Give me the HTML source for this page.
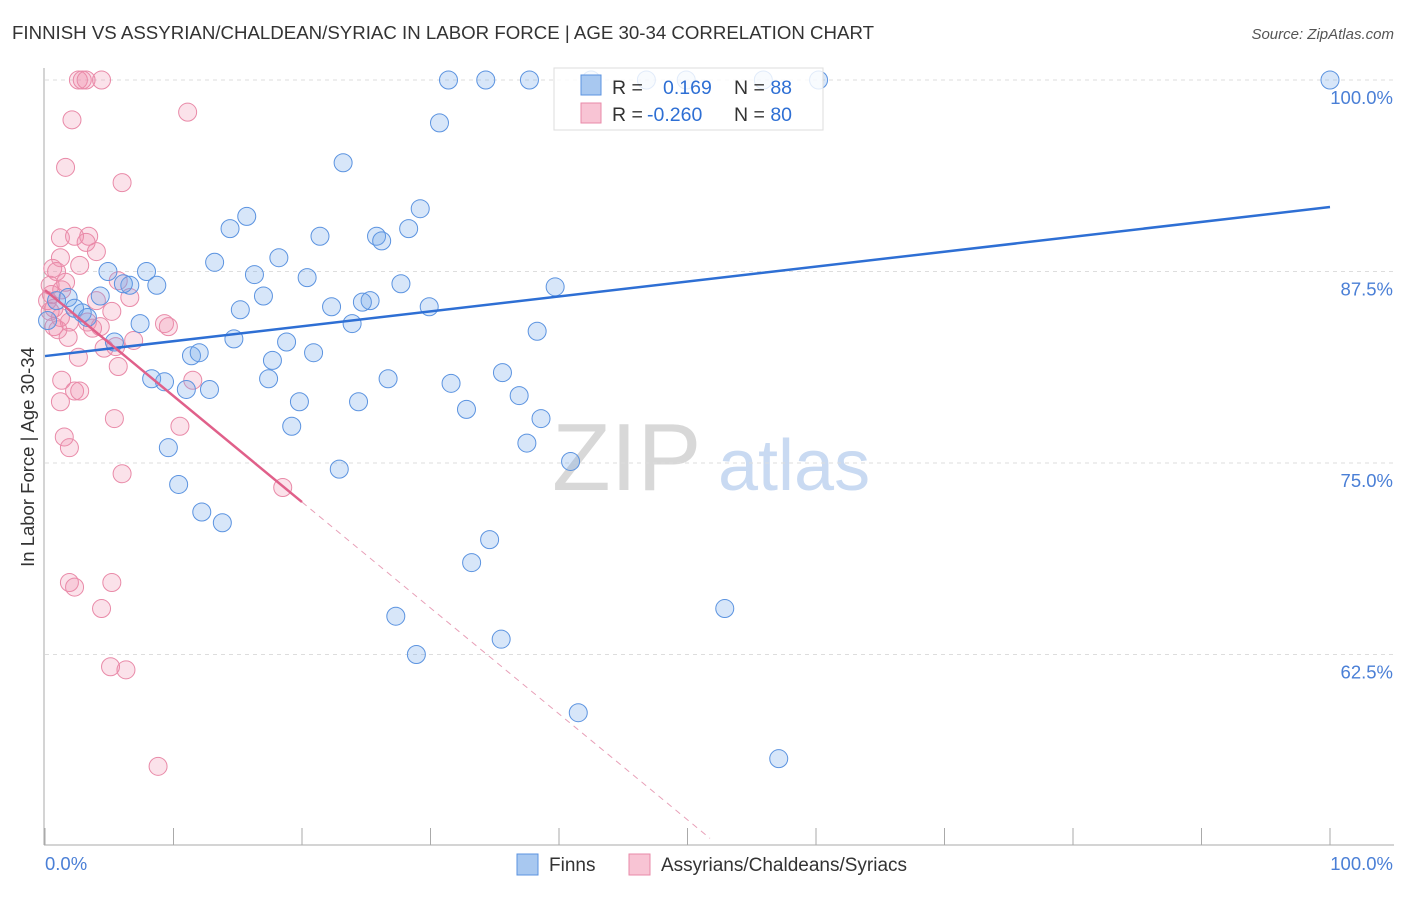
<!DOCTYPE html>
<html><head><meta charset="utf-8"><style>
body{margin:0;background:#fff;font-family:"Liberation Sans",sans-serif}
svg text{font-family:"Liberation Sans",sans-serif}
</style></head><body>
<svg width="1406" height="892" viewBox="0 0 1406 892">
<text x="12" y="39" font-size="18" fill="#333" textLength="862" lengthAdjust="spacingAndGlyphs">FINNISH VS ASSYRIAN/CHALDEAN/SYRIAC IN LABOR FORCE | AGE 30-34 CORRELATION CHART</text>
<text x="1394" y="39" font-size="15" fill="#555" font-style="italic" text-anchor="end">Source: ZipAtlas.com</text>
<g>
<text x="552" y="490" font-size="96" fill="#d8d8d8" font-family="Liberation Serif">ZIP</text>
<text x="718" y="490" font-size="72" fill="#c9daf2">atlas</text>
</g>
<g id="grid"></g>
<g id="axes"></g>
<g id="pts"></g>
<g id="lines"></g>
<text transform="translate(34,457) rotate(-90)" font-size="18.5" fill="#333" text-anchor="middle">In Labor Force | Age 30-34</text>
<g>
<rect x="554" y="68" width="269" height="62" fill="#fff" fill-opacity="0.82" stroke="#ddd"/>
<rect x="581" y="75" width="20" height="20" fill="#a8c8f0" stroke="#5b93e0"/>
<rect x="581" y="103" width="20" height="20" fill="#f8c4d4" stroke="#e98aa8"/>
<text x="612" y="94" font-size="19.5" fill="#333">R = <tspan x="663" fill="#2e6fd4">0.169</tspan></text>
<text x="734" y="94" font-size="19.5" fill="#333">N = <tspan fill="#2e6fd4">88</tspan></text>
<text x="612" y="121" font-size="19.5" fill="#333">R = <tspan x="647" fill="#2e6fd4">-0.260</tspan></text>
<text x="734" y="121" font-size="19.5" fill="#333">N = <tspan fill="#2e6fd4">80</tspan></text>
</g>
<g>
<rect x="517" y="854" width="21" height="21" fill="#a8c8f0" stroke="#5b93e0"/>
<text x="549" y="871" font-size="19" fill="#333">Finns</text>
<rect x="629" y="854" width="21" height="21" fill="#f8c4d4" stroke="#e98aa8"/>
<text x="661" y="871" font-size="19" fill="#333">Assyrians/Chaldeans/Syriacs</text>
</g>
</svg>
<script>
const yTicks=[100,87.5,75,62.5];
const yTickLabels=["100.0%","87.5%","75.0%","62.5%"];
const finnsX=[31.4,34.3,37.7,42.5,46.8,49.9,55.9,60.2,100,30.7,23.2,29.2,15.7,14.4,21.4,25.8,26.2,28.3,13.2,18.2,16.3,7.9,4.9,8.7,6.6,6.1,20.4,27.7,39.7,17.0,25.3,24.7,22.3,29.9,15.2,4.3,1.8,0.9,2.3,2.9,3.3,7.4,23.9,38.3,14.7,18.8,5.4,20.9,11.4,12.0,17.7,8.3,9.3,17.4,26.7,35.6,31.6,11.0,12.8,19.8,24.4,36.9,32.8,38.6,19.2,37.5,9.6,22.9,40.9,10.4,12.2,13.8,34.6,33.2,52.9,27.3,35.5,28.9,41.5,57.1,0.2];
const finnsY=[100,100,100,100,100,100,100,100,100,97.2,94.6,91.6,91.1,90.3,89.8,89.8,89.5,90.3,88.1,88.4,87.3,87.5,87.5,86.6,86.6,86.7,87.1,86.7,86.5,85.9,85.6,85.5,85.2,85.2,85.0,85.9,85.8,85.6,85.1,84.8,84.5,84.1,84.1,83.6,83.1,82.9,82.9,82.2,82.0,82.2,81.7,80.5,80.3,80.5,80.5,80.9,80.2,79.8,79.8,79.0,79.0,79.4,78.5,77.9,77.4,76.3,76.0,74.6,75.1,73.6,71.8,71.1,70.0,68.5,65.5,65.0,63.5,62.5,58.7,55.7,84.3];
const assyrX=[2.6,2.9,3.2,4.4,11.1,2.1,1.6,6.0,1.2,2.3,3.4,3.2,4.0,1.2,2.7,0.6,0.9,1.6,5.7,1.3,0.5,6.6,4.0,0.7,5.2,1.2,3.3,4.3,9.3,9.6,0.7,1.8,6.9,4.6,5.5,2.6,5.7,1.3,2.3,2.7,11.5,1.2,5.4,10.5,1.5,1.9,6.0,18.5,1.9,2.3,5.2,4.4,5.1,6.3,8.8,0.2,0.4,1.0,1.9,3.7,0.4];
const assyrY=[100,100,100,100,97.9,97.4,94.3,93.3,89.7,89.8,89.8,89.4,88.8,88.4,87.9,87.7,87.5,86.8,86.9,86.3,86.0,85.8,85.6,85.1,84.9,84.5,84.2,83.9,84.1,83.9,83.9,83.2,83.0,82.5,82.6,81.9,81.3,80.4,79.7,79.7,80.4,79.0,77.9,77.4,76.7,76.0,74.3,73.4,67.2,66.9,67.2,65.5,61.7,61.5,55.2,85.6,84.9,83.7,84.2,83.8,86.6];
const finnsTrend=[[0,81.98],[100,91.71]];
const assyrTrendSolid=[[0,86.29],[20,72.45]];
const assyrTrendDashed=[[20,72.45],[51.75,50.5]];
const NS="http://www.w3.org/2000/svg";
const sx=v=>45+v*12.85;
const sy=v=>80+(100-v)*15.32;
function mk(t,a,p){const e=document.createElementNS(NS,t);for(const k in a)e.setAttribute(k,a[k]);p.appendChild(e);return e;}
const grid=document.getElementById('grid'),axes=document.getElementById('axes'),pts=document.getElementById('pts'),lines=document.getElementById('lines');
yTicks.forEach((t,i)=>{
 const l=mk('line',{x1:45,x2:1394,y1:sy(t),y2:sy(t),stroke:'#ddd','stroke-dasharray':'4,4'},grid);
 
 
 const tx=mk('text',{x:1393,y:sy(t)+24,'font-size':18.5,fill:'#4a7fd6','text-anchor':'end'},axes);
 tx.textContent=yTickLabels[i];
 
 
});
const ya=mk('line',{x1:44,x2:44,y1:68,y2:845,stroke:'#aaa'},axes);


const xa=mk('line',{x1:44,x2:1394,y1:845,y2:845,stroke:'#aaa'},axes);


for(let i=0;i<=10;i++){
 const tk=mk('line',{x1:sx(i*10),x2:sx(i*10),y1:828,y2:845,stroke:'#aaa'},axes);
 
 
}
const xl0=mk('text',{x:45,y:870,'font-size':18.5,fill:'#4a7fd6'},axes);xl0.textContent='0.0%';


const xl1=mk('text',{x:1393,y:870,'font-size':18.5,fill:'#4a7fd6','text-anchor':'end'},axes);xl1.textContent='100.0%';


assyrX.forEach((x,i)=>{
 const c=mk('circle',{cx:sx(x),cy:sy(assyrY[i]),r:9,fill:'rgba(240,140,170,0.25)',stroke:'#e98aa8','stroke-width':1},pts);
 
 
});
finnsX.forEach((x,i)=>{
 const c=mk('circle',{cx:sx(x),cy:sy(finnsY[i]),r:9,fill:'rgba(110,165,235,0.28)',stroke:'#5b93e0','stroke-width':1},pts);
 
 
});
const fl=mk('line',{x1:sx(finnsTrend[0][0]),y1:sy(finnsTrend[0][1]),x2:sx(finnsTrend[1][0]),y2:sy(finnsTrend[1][1]),stroke:'#2e6fd4','stroke-width':2.5},lines);


const al=mk('line',{x1:sx(assyrTrendSolid[0][0]),y1:sy(assyrTrendSolid[0][1]),x2:sx(assyrTrendSolid[1][0]),y2:sy(assyrTrendSolid[1][1]),stroke:'#e0608a','stroke-width':2.5},lines);


const ad=mk('line',{x1:sx(assyrTrendDashed[0][0]),y1:sy(assyrTrendDashed[0][1]),x2:sx(assyrTrendDashed[1][0]),y2:sy(assyrTrendDashed[1][1]),stroke:'#e8a0b8','stroke-width':1,'stroke-dasharray':'6,5'},lines);


</script>
</body></html>
